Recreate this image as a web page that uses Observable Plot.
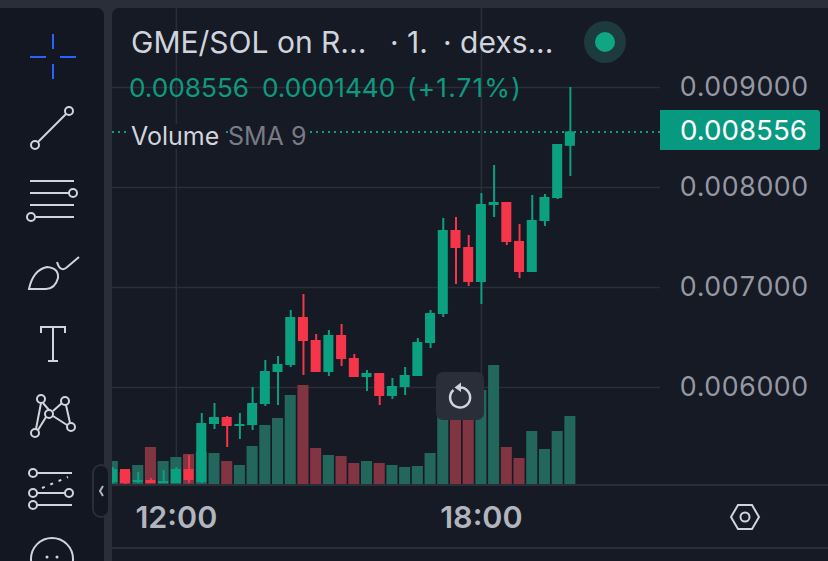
<!DOCTYPE html>
<html>
<head>
<meta charset="utf-8">
<script src="https://cdn.jsdelivr.net/npm/d3@7"></script>
<script src="https://cdn.jsdelivr.net/npm/@observablehq/plot@0.6"></script>
<style>
  html,body{margin:0;padding:0;background:#2a2e39;width:828px;height:561px;overflow:hidden;font-family:Inter,"Noto Sans",sans-serif}
  #toolbar{position:absolute;left:0;top:8px;width:104px;height:553px;background:#131722;border-top-right-radius:7px}
  #main{position:absolute;left:112px;top:8px;width:716px;height:553px;background:#161a25;border-top-left-radius:7px}
  #layers svg{position:absolute;left:0;top:0}
  .hline{position:absolute;left:112px;width:716px;height:2px;background:#2a2e39}
  .txt{position:absolute;white-space:pre;line-height:1}
  #chrome{position:absolute;left:0;top:0}
</style>
</head>
<body>
<div id="toolbar"></div>
<div id="main"></div>
<div class="hline" style="top:484px"></div>
<div class="hline" style="top:547px"></div>
<div id="layers"></div>

<div class="txt" style="left:131px;top:27px;font-size:30px;color:#d1d4dc">GME/SOL on R...</div>
<div class="txt" style="left:390px;top:27px;font-size:30px;color:#d1d4dc">· 1.</div>
<div class="txt" style="left:443px;top:27px;font-size:30px;color:#d1d4dc">· dexs...</div>
<div class="txt" style="left:129px;top:75px;font-size:26.2px;color:#0e9a7f">0.008556</div>
<div class="txt" style="left:262px;top:75px;font-size:26.2px;color:#0e9a7f">0.0001440</div>
<div class="txt" style="left:407px;top:75px;font-size:26.2px;letter-spacing:1.2px;color:#0e9a7f">(+1.71%)</div>
<div class="txt" style="left:128px;top:124px;padding:0 3px;font-size:25px;color:#d1d4dc;background:#161a25">Volume</div>
<div class="txt" style="left:228px;top:124px;font-size:25px;color:#787b86;background:#161a25">SMA 9</div>
<div style="position:absolute;left:660px;top:110px;width:160px;height:40px;background:#089981;border-radius:0 3px 3px 0"></div>
<div class="txt" style="left:680px;top:117px;font-size:27.7px;color:#fff">0.008556</div>

<svg id="chrome" width="828" height="561" fill="none" stroke="#d1d4dc" stroke-width="2">
  <g stroke="#2962ff"><path d="M53 34V49M53 64V79M30 57H46M60 57H76"/></g>
  <path d="M38 142L66 114"/><circle cx="69" cy="111" r="4"/><circle cx="35" cy="145" r="4"/>
  <path d="M30 181H74M30 193H69M30 205H74M36 217H74"/><circle cx="73" cy="193" r="4"/><circle cx="31" cy="217" r="4"/>
  <path d="M29 289Q33 270 47 267Q59 268 58 278Q55 289 46 289Z"/><path d="M57 262Q60 272 66 268L79 257"/>
  <path d="M41 333V327H65V333M53 327V361M48 361H58"/>
  <path d="M41 403L36 429M43 403L49 410M46 417L38 430M53 411L62 403M66 405L70 423M53 416L67 425"/>
  <circle cx="41" cy="399" r="4"/><circle cx="65" cy="401" r="4"/><circle cx="49" cy="414" r="4"/><circle cx="35" cy="433" r="4"/><circle cx="71" cy="427" r="4"/>
  <path d="M37 473H72M37 493H65M37 505H72"/><circle cx="33" cy="473" r="4"/><circle cx="33" cy="493" r="4"/><circle cx="69" cy="493" r="4"/><circle cx="33" cy="505" r="4"/>
  <path d="M42 488L68 477" stroke-dasharray="3 6"/>
  <circle cx="52" cy="559" r="21"/><circle cx="47" cy="557" r="1.5" fill="#d1d4dc" stroke="none"/><circle cx="57" cy="557" r="1.5" fill="#d1d4dc" stroke="none"/>
  <rect x="93" y="465" width="16" height="52" rx="8" fill="#131722" stroke="#2a2e39"/>
  <path d="M103 486L100 491L103 496" stroke="#b2b5be"/>
  <circle cx="605" cy="42" r="21" fill="#1d3a3e" stroke="none"/><circle cx="605" cy="42" r="10" fill="#10a583" stroke="none"/>
  <path d="M731 517L738 505H752L759 517L752 529H738Z"/><circle cx="745" cy="517" r="4.5"/>
</svg>

<script>
// 15-minute candles (label of each candle's opening time)
const times = ["10:45","11:00","11:15","11:30","11:45","12:00","12:15","12:30","12:45","13:00","13:15","13:30","13:45",
  "14:00","14:15","14:30","14:45","15:00","15:15","15:30","15:45","16:00","16:15","16:30","16:45","17:00","17:15",
  "17:30","17:45","18:00","18:15","18:30","18:45","19:00","19:15","19:30","19:45"];
const open = [.00505,.00518,.00505,.00507,.00504,.00504,.00518,.00505,.00563,.00570,.00561,.00562,.00583,
  .00615,.00622,.00670,.00647,.00615,.00652,.00629,.00610,.00614,.00591,.00600,.00611,.00644,.00673,
  .00757,.00740,.00705,.00782,.00785,.00746,.00715,.00766,.00789,.008412];
const high = [.00520,.00518,.00515,.00509,.00517,.00520,.00532,.00574,.00584,.00571,.00574,.00600,.00627,
  .00631,.00677,.00693,.00653,.00657,.00663,.00633,.00617,.00614,.00609,.00620,.00649,.00677,.00769,
  .00770,.00752,.00794,.00822,.00785,.00763,.00792,.00793,.00843,.00900];
const low = [.00504,.00503,.00504,.00504,.00504,.00504,.00504,.00504,.00558,.00540,.00548,.00557,.00581,
  .00582,.00620,.00612,.00615,.00611,.00621,.00610,.00596,.00582,.00588,.00592,.00611,.00639,.00670,
  .00703,.00701,.00683,.00770,.00742,.00709,.00715,.00761,.00788,.00811];
const close = [.00518,.00504,.00507,.00504,.00506,.00518,.00507,.00564,.00570,.00561,.00563,.00584,.00616,
  .00623,.00670,.00646,.00615,.00652,.00628,.00610,.00614,.00591,.00601,.00612,.00645,.00674,.00757,
  .00739,.00705,.00783,.00785,.00745,.00715,.00767,.00790,.00843,.008556];
const volume = [23,12,19,37,23,27,30,32,31,23,19,38,59,66,89,99,36,29,28,21,23,21,19,17,18,31,75,80,80,94,119,37,26,53,35,53,68];
const priceTicks = [.006,.007,.008,.009];
const timeTicks = ["12:00","18:00"];
const lastPrice = .008556;

const candles = times.map((t,i)=>({t,open:open[i],high:high[i],low:low[i],close:close[i],volume:volume[i]}));
const UP="#0aa080", DOWN="#f4354a", UPV="#22665c", DOWNV="#813542", GRID="#2a2e39";
const color = d => d.close >= d.open ? UP : DOWN;
const colorV = d => d.close >= d.open ? UPV : DOWNV;

const base = {width:828,height:561,marginLeft:112,marginRight:168,marginTop:8,marginBottom:76,
  style:{background:"transparent",fontFamily:"Inter"}};
const xScale = (inner,r0,r1)=>({type:"band",domain:times,range:[r0,r1],paddingInner:inner,paddingOuter:0,round:false,label:null});
const priceY = {domain:[.00502,.00979],range:[485,8],label:null};

const gridPlot = Plot.plot({...base,
  x:xScale(.21,107.28,574.9), y:priceY,
  marks:[
    Plot.ruleY(priceTicks,{stroke:GRID,strokeWidth:1.5}),
    Plot.ruleX(timeTicks,{stroke:GRID,strokeWidth:1.5}),
    Plot.axisY(priceTicks,{anchor:"right",tickSize:0,tickPadding:19,tickFormat:d3.format(".6f"),fontSize:26.8,fill:"#9598a1",label:null}),
    Plot.axisX(timeTicks,{anchor:"bottom",tickSize:0,tickPadding:20.5,fontSize:30.5,fontWeight:600,fill:"#b2b5be",label:null})
  ]});

const volumePlot = Plot.plot({...base,
  x:{...xScale(.13,106.77,575.4),axis:null},
  y:{domain:[0,120],range:[484,364],axis:null},
  marks:[
    Plot.barY(candles,{x:"t",y:"volume",fill:colorV,clip:true})
  ]});

const candlePlot = Plot.plot({...base,
  x:{...xScale(.21,107.28,574.9),axis:null},
  y:{...priceY,axis:null},
  marks:[
    Plot.ruleY([lastPrice],{stroke:UP,strokeWidth:2,strokeDasharray:"2 4"}),
    Plot.ruleX(candles,{x:"t",y1:"low",y2:"high",stroke:color,strokeWidth:2,clip:true}),
    Plot.barY(candles,{x:"t",y1:"open",y2:"close",fill:color,clip:true})
  ]});

const layers=document.getElementById("layers");
layers.append(gridPlot,volumePlot,candlePlot);
</script>

<div style="position:absolute;left:436px;top:372px;width:48px;height:48px;background:#2a2e39;border-radius:7px"></div>
<svg style="position:absolute;left:436px;top:372px" width="48" height="48" fill="none" stroke="#d1d4dc" stroke-width="2.5">
  <path d="M17.5 18A10 10 0 1 0 24 15.5"/><path d="M25 10.5V20L18.5 15.5Z" fill="#d1d4dc" stroke="none"/>
</svg>
</body>
</html>
